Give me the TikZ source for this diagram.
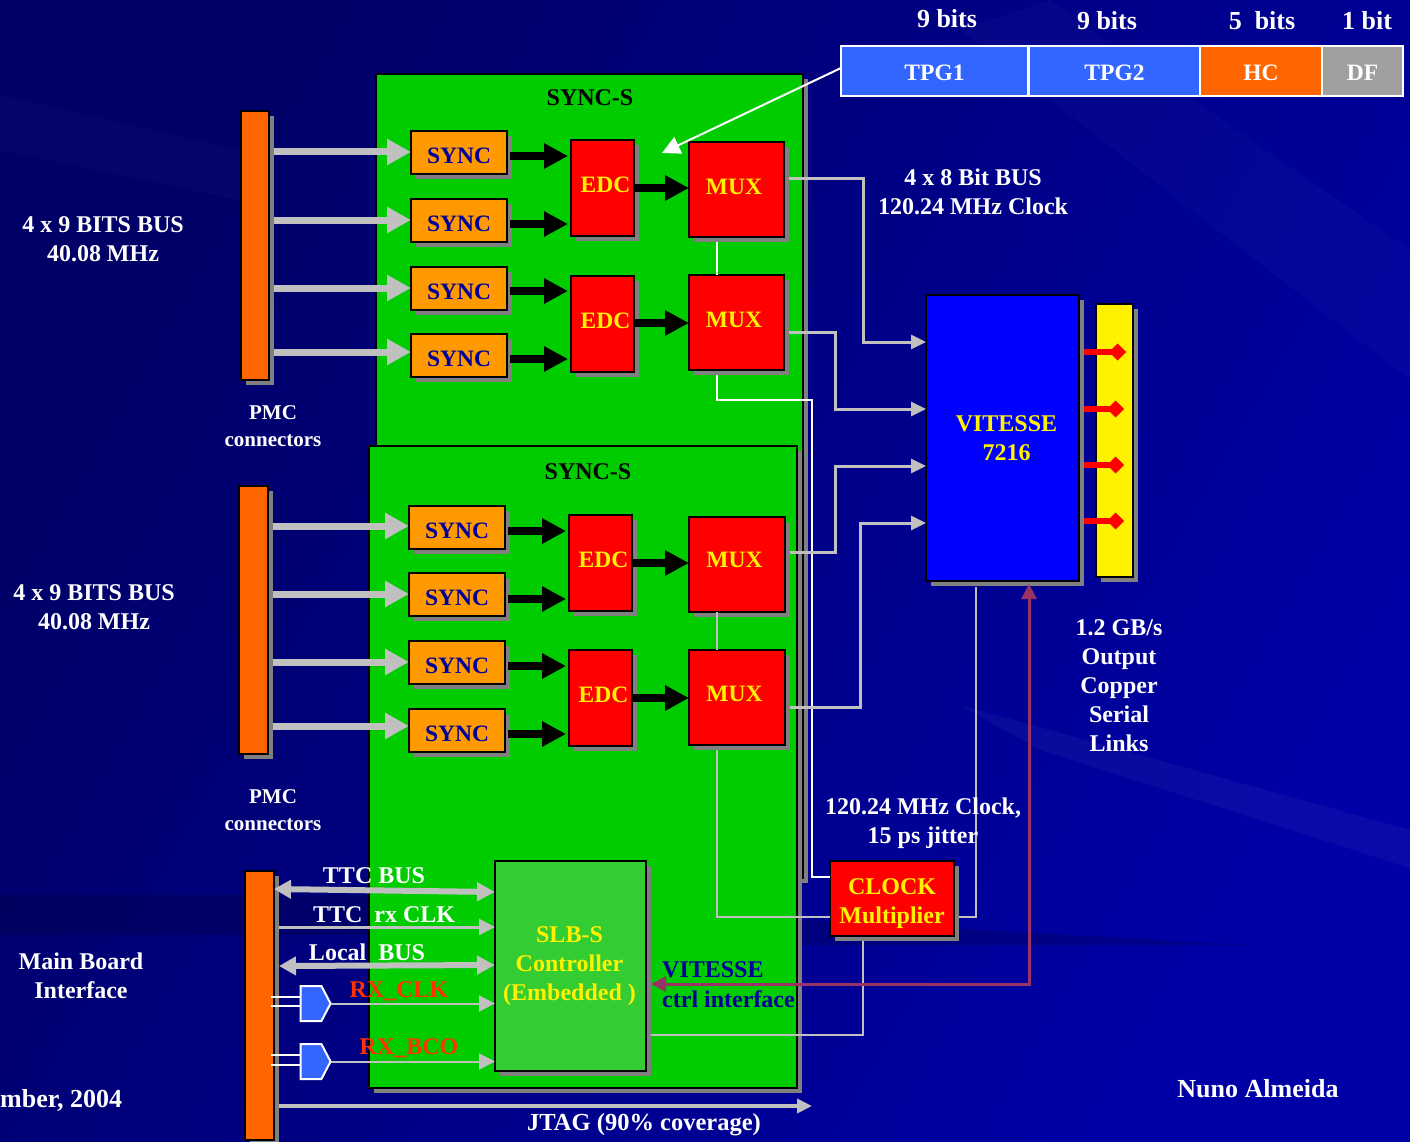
\documentclass[tikz,border=0pt]{standalone}
\usepackage{fontspec}
\setmainfont{Liberation Serif}
\usetikzlibrary{arrows.meta,shadows,shapes.symbols}
\definecolor{bgA}{HTML}{000066}
\definecolor{bgB}{HTML}{0000A6}
\definecolor{shd}{HTML}{808080}
\definecolor{grn}{HTML}{00CC00}
\definecolor{slb}{HTML}{33CC33}
\definecolor{org}{HTML}{FF9900}
\definecolor{bar}{HTML}{FF6600}
\definecolor{hdr}{HTML}{3366FF}
\definecolor{lgr}{HTML}{C0C0C0}
\definecolor{mag}{HTML}{993366}
\definecolor{navytx}{HTML}{000099}
\definecolor{rxred}{HTML}{FF3300}
\newcommand\fzz[2]{\fontsize{#1}{#2}\selectfont\bfseries}
\newcommand\dbox[7]{\node[#6,minimum width={(#4)-(#2)},minimum height={(#5)-(#3)}] (#1) at ({((#2)+(#4))/2},{((#3)+(#5))/2}) {#7};}
% move a text inside its box without changing the box: x offset (doubled), y offset
\newcommand\tsh[3]{\hspace*{#1}\raisebox{#2}[\height][\depth]{#3}}
\newcommand\SY{\tsh{0pt}{-3pt}{SYNC}}
\tikzset{
  sh/.style={draw=black,line width=2pt,inner sep=0pt,outer sep=0pt,align=center,general shadow={fill=shd,shadow xshift=5pt,shadow yshift=-5pt}},
  panel/.style={sh,fill=grn},
  barbox/.style={sh,fill=bar},
  syncbox/.style={sh,fill=org,text=navytx,font=\fzz{23.5}{28}},
  redbox/.style={sh,fill=red,text=yellow,font=\fzz{23.5}{28}},
  head/.style={draw=white,line width=2pt,text=white,inner sep=0pt,outer sep=0pt,font=\fzz{23.5}{28}},
  lab/.style={text=white,align=center,inner sep=0pt,font=\fzz{24}{29}},
  small/.style={lab,font=\fzz{21}{27}},
  toplab/.style={lab,font=\fzz{26}{29}},
  busin/.style={draw=lgr,line width=7pt,-{Triangle[length=24pt,width=25pt]}},
  blk/.style={draw=black,line width=8pt,-{Triangle[length=24pt,width=24pt]}},
  outl/.style={draw=lgr,line width=3pt,-{Triangle[length=15pt,width=14pt]}},
  thin/.style={draw=lgr,line width=2pt},
  wthin/.style={draw=white,line width=2pt},
  dbl/.style={draw=lgr,line width=6pt,{Triangle[length=17pt,width=18pt]}-{Triangle[length=18pt,width=18pt]}},
  sgl/.style={draw=lgr,line width=3pt,-{Triangle[length=16pt,width=16pt]}},
  redout/.style={draw=red,line width=6pt,-{Diamond[length=17pt,width=17pt]}},
  gate/.style={signal,signal to=east,signal pointer angle=125,fill=hdr,draw=white,line width=2pt,minimum width=30pt,minimum height=35pt,inner sep=0pt,outer sep=0pt},
}
\begin{document}
\begin{tikzpicture}[x=1pt,y=-1pt]
\useasboundingbox (0,0) rectangle (1410,1142);
\shade[top color=bgA,bottom color=bgB,shading angle=60] (0,0) rectangle (1410,1142);
\begin{scope}
\clip (0,0) rectangle (1410,1142);
\fill[white,opacity=.04] (960,705) -- (1410,830) -- (1410,868) -- (1040,750) -- cycle;
\fill[white,opacity=.02] (1050,0) -- (1410,250) -- (1410,380) -- (960,30) -- cycle;
\fill[white,opacity=.02] (0,95) -- (240,150) -- (240,200) -- (0,150) -- cycle;
\fill[black,opacity=.15] (0,895) -- (380,895) -- (380,935) -- (0,935) -- cycle;
\fill[black,opacity=.15] (800,920) -- (1250,945) -- (800,945) -- cycle;
\end{scope}
% panels
\dbox{panelA}{376}{74}{803}{878}{panel}{}
\dbox{panelB}{369}{446}{797}{1088}{panel}{}
% header
\dbox{tpgA}{841}{46}{1028}{96}{head,fill=hdr}{\tsh{0pt}{-2pt}{TPG1}}
\dbox{tpgB}{1029}{46}{1200}{96}{head,fill=hdr}{\tsh{0pt}{-2pt}{TPG2}}
\dbox{hc}{1200}{46}{1322}{96}{head,fill=bar}{\tsh{0pt}{-2pt}{HC}}
\dbox{df}{1322}{46}{1403}{96}{head,fill=gray!75}{\tsh{0pt}{-2pt}{DF}}
% bars
\dbox{barA}{241}{111}{269}{380}{barbox}{}
\dbox{barB}{239}{486}{268}{754}{barbox}{}
\dbox{barC}{245}{871}{274}{1140}{barbox}{}
% sync
\dbox{sa}{411}{131}{507}{174}{syncbox}{\SY}
\dbox{sb}{411}{199}{507}{242}{syncbox}{\SY}
\dbox{sc}{411}{267}{507}{310}{syncbox}{\SY}
\dbox{sd}{411}{334}{507}{377}{syncbox}{\SY}
\dbox{se}{409}{506}{505}{549}{syncbox}{\SY}
\dbox{sf}{409}{573}{505}{616}{syncbox}{\SY}
\dbox{sg}{409}{641}{505}{684}{syncbox}{\SY}
\dbox{sh}{409}{709}{505}{752}{syncbox}{\SY}
% edc
\dbox{ea}{571}{140}{634}{236}{redbox}{\tsh{6pt}{3pt}{EDC}}
\dbox{eb}{571}{276}{634}{372}{redbox}{\tsh{6pt}{3pt}{EDC}}
\dbox{ec}{569}{515}{632}{611}{redbox}{\tsh{6pt}{3pt}{EDC}}
\dbox{ed}{569}{650}{632}{746}{redbox}{\tsh{6pt}{3pt}{EDC}}
% mux
\dbox{ma}{689}{142}{784}{237}{redbox}{\tsh{-5pt}{3pt}{MUX}}
\dbox{mb}{689}{275}{784}{370}{redbox}{\tsh{-5pt}{3pt}{MUX}}
\dbox{mc}{689}{517}{785}{612}{redbox}{\tsh{-5pt}{5pt}{MUX}}
\dbox{md}{689}{650}{785}{745}{redbox}{\tsh{-5pt}{4pt}{MUX}}
% others
\dbox{vit}{926}{295}{1079}{581}{sh,fill=blue,text=yellow,font=\fzz{24}{29}}{\hspace*{8pt}VITESSE\\\hspace*{8pt}7216}
\dbox{yel}{1096}{304}{1133}{577}{sh,fill=yellow}{}
\dbox{clk}{830}{861}{954}{936}{redbox,font=\fzz{24}{29}}{\raisebox{-4.5pt}[\height][\depth]{\begin{tabular}{@{}c@{}}CLOCK\\Multiplier\end{tabular}}}
\dbox{slb}{495}{861}{646}{1071}{sh,fill=slb,text=yellow,font=\fzz{24}{29}}{\hspace*{-2pt}SLB-S\\\hspace*{-2pt}Controller\\\hspace*{-2pt}(Embedded )}
\node[gate] (ga) at (311,1003.5) {};
\node[gate] (gb) at (311,1061.5) {};
% thin links
\draw[wthin] (ma.south -| 717,0) ++(0,5) -- (mb.north -| 717,0);
\draw[wthin] (717,375) -- (717,400) -- (812,400) -- (812,877) -- (clk.west |- 0,877);
\draw[thin] (mc.south -| 717,0) -- (md.north -| 717,0);
\draw[thin] (717,750) -- (717,917) -- (clk.west |- 0,917);
\draw[thin] ([xshift=5pt]clk.east |- 0,917) -- (976,917) -- (976,587);
\draw[thin] (863,941) -- (863,1035) -- ([xshift=5pt]slb.east |- 0,1035);
% input buses
\draw[busin] (274,152) -- (sa.west |- 0,152);
\draw[busin] (274,220) -- (sb.west |- 0,220);
\draw[busin] (274,288) -- (sc.west |- 0,288);
\draw[busin] (274,352) -- (sd.west |- 0,352);
\draw[busin] (273,526) -- (se.west |- 0,526);
\draw[busin] (273,594) -- (sf.west |- 0,594);
\draw[busin] (273,662) -- (sg.west |- 0,662);
\draw[busin] (273,726) -- (sh.west |- 0,726);
% black arrows
\draw[blk] (510,156) -- (568,156);
\draw[blk] (510,224) -- (568,224);
\draw[blk] (510,291) -- (568,291);
\draw[blk] (510,359) -- (568,359);
\draw[blk] (508,531) -- (566,531);
\draw[blk] (508,599) -- (566,599);
\draw[blk] (508,666) -- (566,666);
\draw[blk] (508,734) -- (566,734);
\draw[blk] (ea.east |- 0,188) -- (ma.west |- 0,188);
\draw[blk] (eb.east |- 0,323) -- (mb.west |- 0,323);
\draw[blk] (ec.east |- 0,563) -- (mc.west |- 0,563);
\draw[blk] (ed.east |- 0,698) -- (md.west |- 0,698);
% white pointer
\coordinate (tipw) at (662,153);
\draw[draw=white,line width=2pt,-{Triangle[length=18pt,width=18pt]}] (tpgA.west |- 0,68) -- (tipw);
% mux to vitesse
\draw[outl] ([xshift=5pt]ma.east |- 0,179) -- (863,179) -- (863,342) -- (vit.west |- 0,342);
\draw[outl] ([xshift=5pt]mb.east |- 0,332) -- (835,332) -- (835,409) -- (vit.west |- 0,409);
\draw[outl] ([xshift=5pt]mc.east |- 0,552) -- (835,552) -- (835,466) -- (vit.west |- 0,466);
\draw[outl] ([xshift=5pt]md.east |- 0,707) -- (860,707) -- (860,523) -- (vit.west |- 0,523);
% outputs
\draw[redout] ([xshift=5pt]vit.east |- 0,352) -- (1126,352);
\draw[redout] ([xshift=5pt]vit.east |- 0,409) -- (1124,409);
\draw[redout] ([xshift=5pt]vit.east |- 0,465) -- (1124,465);
\draw[redout] ([xshift=5pt]vit.east |- 0,521) -- (1124,521);
% magenta
\draw[draw=mag,line width=3pt,{Triangle[length=15pt,width=15pt]}-{Triangle[length=15pt,width=15pt]}] (1029,584) -- (1029,984) -- ([xshift=5pt]slb.east |- 0,984);
% bottom-left links
\draw[dbl] (barC.east |- 0,889) -- (slb.west |- 0,892);
\draw[sgl] ([xshift=5pt]barC.east |- 0,927) -- (slb.west |- 0,927);
\draw[dbl] ([xshift=5pt]barC.east |- 0,966) -- (slb.west |- 0,965);
\draw[wthin] ([xshift=-3pt]barC.east |- 0,997) -- (ga.west |- 0,997);
\draw[wthin] ([xshift=-3pt]barC.east |- 0,1006) -- (ga.west |- 0,1006);
\draw[wthin] ([xshift=-3pt]barC.east |- 0,1055) -- (gb.west |- 0,1055);
\draw[wthin] ([xshift=-3pt]barC.east |- 0,1065) -- (gb.west |- 0,1065);
\draw[sgl,line width=2pt] (ga.east) -- (slb.west |- ga.east);
\draw[sgl,line width=2pt] (gb.east) -- (slb.west |- gb.east);
\coordinate (jtagend) at (812,1106);
\draw[draw=lgr,line width=4pt,-{Triangle[length=15pt,width=14pt]}] ([xshift=5pt]barC.east |- 0,1106) -- (jtagend);
% labels
\node[toplab] (b1) at (947,19) {9 bits};
\node[toplab] (b2) at (1107,21) {9 bits};
\node[toplab] (b3) at (1262,21) {5\ \ bits};
\node[toplab] (b4) at (1367,21) {1 bit};
\node[lab,text=black] (ssa) at (590,98) {SYNC-S};
\node[lab,text=black] (ssb) at (588,472) {SYNC-S};
\node[lab] (l1) at (103,239) {4 x 9 BITS BUS\\40.08 MHz};
\node[lab] (l2) at (94,607) {4 x 9 BITS BUS\\40.08 MHz};
\node[small] (p1) at (273,426) {PMC\\connectors};
\node[small] (p2) at (273,810) {PMC\\connectors};
\node[lab] (l3) at (973,192) {4 x 8 Bit BUS\\120.24 MHz Clock};
\node[lab] (l4) at (1119,686) {1.2 GB/s\\Output\\Copper\\Serial\\Links};
\node[lab] (l5) at (923,823) {120.24 MHz Clock,\\15 ps jitter};
\node[lab] (l6) at (81,976) {Main Board\\Interface};
\node[lab,font=\fzz{26}{29},anchor=west] (l7) at (0,1100) {mber, 2004};
\node[lab,font=\fzz{26}{29}] (l8) at (1258,1089) {Nuno Almeida};
\node[lab,font=\fzz{24.5}{29}] (l9) at (644,1125) {JTAG (90\% coverage)};
\node[lab] (t1) at (374,876) {TTC BUS};
\node[lab] (t2) at (384,915) {TTC\ \ rx CLK};
\node[lab] (t3) at (367,952) {Local\ \ BUS};
\node[lab,text=rxred] (t4) at (399,991) {RX\_CLK};
\node[lab,text=rxred] (t5) at (409,1048) {RX\_BCO};
\node[lab,text=navytx,anchor=west] (t6) at (662,970) {VITESSE};
\node[lab,text=navytx,anchor=west] (t7) at (662,999) {ctrl interface};
\end{tikzpicture}
\end{document}
